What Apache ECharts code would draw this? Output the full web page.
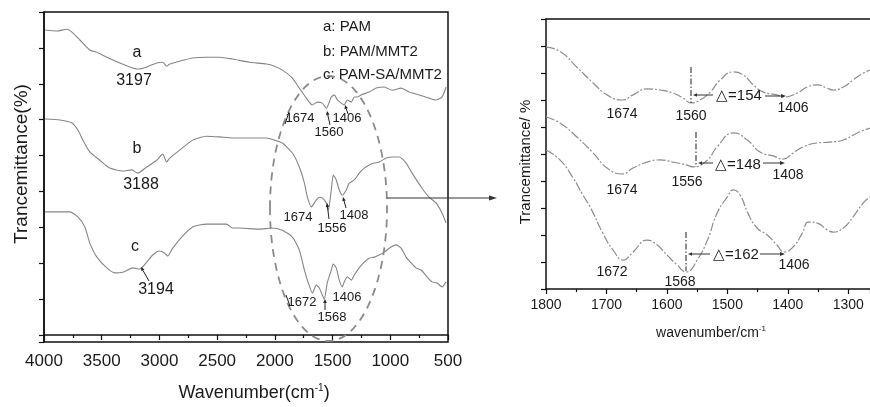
<!DOCTYPE html>
<html><head><meta charset="utf-8">
<script src="https://cdn.jsdelivr.net/npm/echarts@6/dist/echarts.min.js"></script>
<style>html,body{margin:0;padding:0;background:#fff}#c{width:870px;height:407px}</style>
</head><body><div id="c"></div>
<script>
// ---------- data ----------
// Full spectra (left panel), wavenumber in cm-1, transmittance in arbitrary %-units
const waveA = [3990,3888,3800,3758,3689,3603,3542,3456,3343,3257,3188,3110,3023,2972,2937,2911,2825,2712,2591,2479,2367,2220,2073,2004,1935,1848,1788,1727,1675,1632,1589,1554,1511,1485,1459,1425,1399,1373,1338,1312,1286,1252,1183,1122,1053,984,906,837,751,664,604,552,517];
const transA = [85.0,84.7,85.2,84.4,82.2,79.4,78.8,77.4,75.8,74.7,74.1,74.7,75.8,76.0,74.9,75.5,76.3,77.2,77.4,77.4,76.9,76.0,75.5,74.9,73.8,71.6,68.8,66.0,64.1,64.9,64.6,63.2,66.3,66.9,65.5,64.6,64.1,65.5,64.9,66.3,66.3,66.9,67.7,68.8,69.1,68.2,68.8,67.7,66.9,66.0,65.5,66.3,69.1];
const waveB = [3990,3862,3758,3706,3663,3603,3516,3430,3317,3240,3188,3110,3023,2972,2937,2911,2825,2712,2591,2479,2367,2220,2073,2004,1935,1848,1788,1744,1718,1684,1641,1615,1589,1554,1537,1511,1494,1468,1442,1416,1381,1356,1312,1269,1226,1183,1139,1096,1036,984,923,863,811,725,664,604,552,517];
const transB = [60.2,59.9,59.1,57.1,54.3,51.0,48.7,46.5,45.7,46.0,45.1,46.8,48.7,50.4,48.2,49.3,51.5,54.3,55.4,55.2,54.9,54.9,54.9,54.3,53.5,50.7,46.8,42.3,38.4,35.7,37.6,38.4,38.2,36.8,34.8,40.4,44.6,43.2,40.4,39.0,40.4,42.3,43.2,45.1,46.5,47.4,47.9,48.2,49.3,49.6,49.6,47.9,45.1,40.9,38.4,36.8,34.0,31.2];
const waveC = [3990,3775,3706,3646,3603,3542,3456,3386,3317,3231,3170,3110,3058,2998,2954,2928,2885,2807,2712,2591,2419,2367,2306,2133,2030,1935,1848,1788,1744,1710,1675,1641,1615,1589,1572,1546,1511,1494,1468,1442,1416,1399,1373,1338,1312,1269,1226,1183,1139,1096,1053,993,949,906,863,820,777,733,681,638,595,552,517];
const transC = [34.3,34.3,32.9,30.1,25.6,21.7,18.7,17.3,17.5,18.7,18.4,20.3,22.3,23.4,22.8,22.0,24.2,27.3,30.1,30.9,30.9,29.8,29.8,29.5,29.8,29.2,27.3,23.7,18.1,14.5,11.7,13.9,13.1,11.1,10.0,14.5,18.1,19.8,18.7,15.3,13.4,14.8,16.2,15.3,16.7,18.7,20.3,21.4,21.7,22.3,23.1,24.5,25.1,24.2,21.7,20.1,18.7,18.1,16.2,14.8,14.5,13.4,14.8];

// Expanded region 1800-1264 cm-1 (right panel)
const zoomWaveA = [1800,1777,1749,1722,1699,1674,1656,1633,1611,1590,1573,1560,1545,1528,1512,1490,1474,1457,1441,1418,1406,1384,1368,1351,1335,1325,1308,1292,1275,1264];
const zoomTransA = [8.96,8.8,8.22,7.63,7.19,7.00,7.19,7.41,7.37,7.26,7.07,6.89,7.00,7.30,7.74,8.04,7.93,7.56,7.30,7.19,7.11,7.26,7.48,7.56,7.44,7.37,7.48,7.74,8.00,8.11];
const zoomWaveB = [1800,1777,1749,1722,1699,1674,1656,1633,1611,1590,1567,1556,1533,1517,1490,1467,1446,1424,1408,1391,1375,1351,1330,1308,1285,1264];
const zoomTransB = [6.37,6.15,5.63,5.04,4.48,4.26,4.48,4.70,4.78,4.70,4.59,4.52,4.78,5.26,5.78,5.52,5.07,4.93,4.81,5.04,5.26,5.41,5.44,5.52,5.78,5.96];
const zoomWaveC = [1800,1777,1755,1739,1727,1706,1689,1672,1656,1633,1616,1600,1583,1568,1550,1533,1517,1500,1490,1479,1466,1451,1434,1418,1406,1391,1376,1366,1351,1335,1325,1308,1292,1275,1264];
const zoomTransC = [5.15,4.78,4.11,3.48,3.04,2.07,1.44,1.07,1.37,1.81,1.63,1.26,0.89,0.63,1.07,1.81,2.81,3.41,3.67,3.48,2.81,2.26,2.00,1.63,1.37,1.56,2.07,2.48,2.44,2.19,2.11,2.26,2.67,3.19,3.41];

const legendLines = ['a: PAM', 'b: PAM/MMT2', 'c: PAM-SA/MMT2'];
const leftTicks = [4000, 3500, 3000, 2500, 2000, 1500, 1000, 500];
const rightTicks = [1800, 1700, 1600, 1500, 1400, 1300];

// ---------- chart ----------
const FONT = '"Liberation Sans", Arial, Helvetica, sans-serif';
// left panel: y stored as -T on an inverted axis so the ticks count from the top edge
const zipLeft = (w, t) => w.map((v, i) => [v, -t[i]]);
// right panel: x stored as -wavenumber so the ticks count from 1800 at the left edge
const zipRight = (w, t) => w.map((v, i) => [-v, t[i]]);

function txt(text, x, y, size, extra) {
  return Object.assign({type: 'text', x: x, y: y, z: 100,
    style: {text: text, fill: '#1a1a1a', fontSize: size, fontFamily: FONT, align: 'center', verticalAlign: 'middle'}}, extra || {});
}
function seg(x1, y1, x2, y2, stroke, w, dash) {
  return {type: 'line', z: 100, shape: {x1: x1, y1: y1, x2: x2, y2: y2},
    style: {stroke: stroke || '#222', lineWidth: w || 1, lineDash: dash || null}};
}
function arrow(x1, y1, x2, y2, color, w, hl, hw) {
  color = color || '#222'; hl = hl || 6; hw = hw || 2.5;
  const a = Math.atan2(y2 - y1, x2 - x1);
  const bx = x2 - hl * Math.cos(a), by = y2 - hl * Math.sin(a);
  const px = -Math.sin(a) * hw, py = Math.cos(a) * hw;
  return [seg(x1, y1, bx, by, color, w || 1),
    {type: 'polygon', z: 100, shape: {points: [[x2, y2], [bx + px, by + py], [bx - px, by - py]]}, style: {fill: color}}];
}

const axisLineStyle = {color: '#111', width: 1.5};
const tickStyle = {color: '#111', width: 1.2};

const leftLine = {color: '#858585', width: 1.1};
const rightLine = {color: '#8c8c8c', width: 1.2, type: [9, 2, 2, 2]};

const graphics = [];
// axis titles
graphics.push(txt('Trancemittance(%)', 22, 164, 19, {rotation: Math.PI / 2}));
graphics.push({type: 'text', x: 254, y: 393, z: 100, style: {
  text: '{a|Wavenumber(cm}{s|-1}{a|)}', align: 'center', verticalAlign: 'middle', fill: '#1a1a1a',
  rich: {a: {fontSize: 18, fontFamily: FONT, fill: '#1a1a1a', lineHeight: 22},
         s: {fontSize: 10, fontFamily: FONT, fill: '#1a1a1a', lineHeight: 22, padding: [0, 0, 10, 0]}}}});
graphics.push(txt('Trancemittance/ %', 526, 162, 15, {rotation: Math.PI / 2}));
graphics.push({type: 'text', x: 711, y: 333, z: 100, style: {
  text: '{a|wavenumber/cm}{s|-1}', align: 'center', verticalAlign: 'middle', fill: '#1a1a1a',
  rich: {a: {fontSize: 14, fontFamily: FONT, fill: '#1a1a1a', lineHeight: 18},
         s: {fontSize: 8, fontFamily: FONT, fill: '#1a1a1a', lineHeight: 18, padding: [0, 0, 8, 0]}}}});
// legend text
legendLines.forEach((s, i) => graphics.push({type: 'text', x: 323, y: [27, 52, 75][i], z: 100,
  style: {text: s, fill: '#1a1a1a', fontSize: 15, fontFamily: FONT, align: 'left', verticalAlign: 'middle'}}));
// left panel curve labels
[['a', 137, 53], ['3197', 134, 81], ['b', 137, 149], ['3188', 141, 185], ['c', 135, 247], ['3194', 156, 290]]
  .forEach(d => graphics.push(txt(d[0], d[1], d[2], 16)));
// left panel peak labels
[['1674', 300, 118], ['1560', 329, 132], ['1406', 347, 118],
 ['1674', 298, 217], ['1556', 332, 228], ['1408', 354, 215],
 ['1672', 302, 302], ['1568', 332, 317], ['1406', 347, 297]]
  .forEach(d => graphics.push(txt(d[0], d[1], d[2], 13)));
graphics.push(...arrow(330, 125, 327, 111, '#222', 1, 4, 1.8));
graphics.push(...arrow(348, 114, 345, 105, '#222', 1, 4, 1.8));
graphics.push(seg(285, 124, 289, 112, '#222', 1));
graphics.push(...arrow(329, 219, 327, 203, '#222', 1, 4, 1.8));
graphics.push(...arrow(346, 208, 343, 197, '#222', 1, 4, 1.8));
graphics.push(...arrow(325, 310, 325, 299, '#222', 1, 4, 1.8));
graphics.push(seg(286, 295, 290, 306, '#222', 1));
graphics.push(...arrow(149, 281, 141, 267, '#222', 1, 4, 1.8));
// dashed ellipse and big arrow
graphics.push({type: 'ellipse', z: 90, shape: {cx: 328.5, cy: 208.5, rx: 58.5, ry: 132.5},
  style: {fill: null, stroke: '#8a8a8a', lineWidth: 1.8, lineDash: [8, 6]}});
graphics.push(...arrow(387, 198, 497, 198, '#333', 1.1, 8, 2.5));
// right panel labels
[['1674', 622, 114], ['1560', 691, 116], ['1406', 793, 108],
 ['1674', 622, 190], ['1556', 687, 182], ['1408', 788, 175],
 ['1672', 612, 272], ['1568', 680, 282], ['1406', 794, 265]]
  .forEach(d => graphics.push(txt(d[0], d[1], d[2], 14)));
[['\u25B3=154', 739, 96], ['\u25B3=148', 738, 165], ['\u25B3=162', 736, 255]]
  .forEach(d => graphics.push(txt(d[0], d[1], d[2], 15)));
const dd = [6, 2, 1.5, 2];
graphics.push(seg(691, 67, 691, 103, '#444', 1.2, dd));
graphics.push(seg(696, 132, 696, 167, '#444', 1.2, dd));
graphics.push(seg(686, 232, 686, 271, '#444', 1.2, dd));
graphics.push(...arrow(713, 95, 693, 95, '#333', 1, 4, 1.8));
graphics.push(...arrow(765, 96, 786, 96, '#333', 1, 5, 2));
graphics.push(...arrow(713, 163, 698, 163, '#333', 1, 4, 1.8));
graphics.push(...arrow(763, 163, 785, 163, '#333', 1, 5, 2));
graphics.push(...arrow(710, 254, 688, 254, '#333', 1, 4, 1.8));
graphics.push(...arrow(760, 254, 785, 254, '#333', 1, 5, 2));

const chart = echarts.init(document.getElementById('c'), null, {renderer: 'canvas'});
chart.setOption({
  animation: false,
  backgroundColor: '#fff',
  grid: [
    {left: 44, top: 12, width: 404, bottom: 65, show: true, borderColor: '#111', borderWidth: 1.5},
    {left: 546, top: 19, right: 0, bottom: 118, show: false}
  ],
  xAxis: [
    {gridIndex: 0, type: 'value', min: 500, max: 4000, interval: 500, inverse: true,
     axisLine: {lineStyle: axisLineStyle}, axisTick: {inside: false, length: 5, lineStyle: tickStyle},
     minorTick: {show: true, splitNumber: 2, length: 3, lineStyle: tickStyle},
     axisLabel: {fontSize: 17, fontFamily: FONT, color: '#1a1a1a', margin: 11,
       formatter: v => leftTicks.indexOf(v) >= 0 ? String(v) : ''},
     splitLine: {show: false}},
    {gridIndex: 1, type: 'value', min: -1800, max: -1264, interval: 100,
     axisLine: {lineStyle: axisLineStyle}, axisTick: {inside: false, length: 5, lineStyle: tickStyle},
     minorTick: {show: true, splitNumber: 2, length: 3, lineStyle: tickStyle},
     axisLabel: {fontSize: 14, fontFamily: FONT, color: '#1a1a1a', margin: 9, showMaxLabel: false,
       formatter: v => rightTicks.indexOf(-v) >= 0 ? String(-v) : ''},
     splitLine: {show: false}},
    {gridIndex: 1, type: 'value', position: 'top', min: -1800, max: -1264,
     axisLine: {show: true, lineStyle: axisLineStyle}, axisTick: {show: false},
     axisLabel: {show: false}, splitLine: {show: false}}
  ],
  yAxis: [
    {gridIndex: 0, type: 'value', min: -90, max: 1.95, interval: 10, inverse: true,
     axisLine: {show: true, lineStyle: axisLineStyle}, axisTick: {show: true, inside: false, length: 5, lineStyle: tickStyle},
     axisLabel: {show: false}, splitLine: {show: false}},
    {gridIndex: 1, type: 'value', min: 0, max: 10, interval: 1,
     axisLine: {show: true, lineStyle: axisLineStyle}, axisTick: {show: true, inside: false, length: 5, lineStyle: tickStyle},
     axisLabel: {show: false}, splitLine: {show: false}}
  ],
  series: [
    {type: 'line', xAxisIndex: 0, yAxisIndex: 0, data: zipLeft(waveA, transA), showSymbol: false, lineStyle: leftLine, smooth: 0.2},
    {type: 'line', xAxisIndex: 0, yAxisIndex: 0, data: zipLeft(waveB, transB), showSymbol: false, lineStyle: leftLine, smooth: 0.2},
    {type: 'line', xAxisIndex: 0, yAxisIndex: 0, data: zipLeft(waveC, transC), showSymbol: false, lineStyle: leftLine, smooth: 0.2},
    {type: 'line', xAxisIndex: 1, yAxisIndex: 1, data: zipRight(zoomWaveA, zoomTransA), showSymbol: false, lineStyle: rightLine, smooth: true},
    {type: 'line', xAxisIndex: 1, yAxisIndex: 1, data: zipRight(zoomWaveB, zoomTransB), showSymbol: false, lineStyle: rightLine, smooth: true},
    {type: 'line', xAxisIndex: 1, yAxisIndex: 1, data: zipRight(zoomWaveC, zoomTransC), showSymbol: false, lineStyle: rightLine, smooth: true}
  ],
  graphic: graphics
});
</script></body></html>
